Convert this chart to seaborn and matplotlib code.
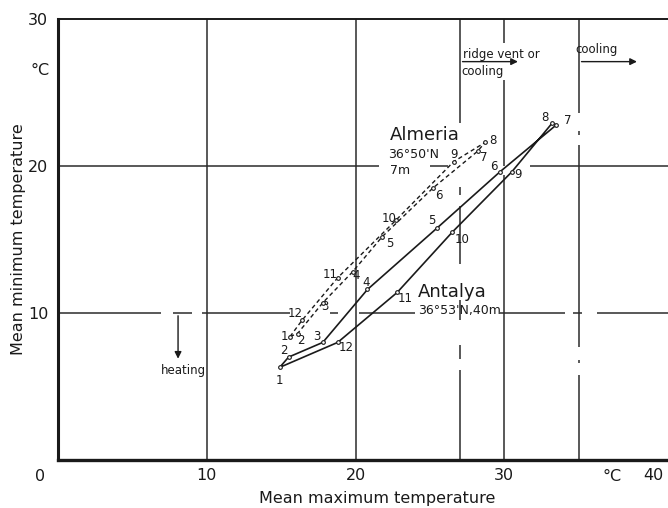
import matplotlib
matplotlib.use("Agg")
import matplotlib.pyplot as plt
import seaborn as sns
import pandas as pd

# monthly mean max / mean min temperature (deg C), months 1..12
months = list(range(1, 13))
antalya_tmax = [14.9, 15.5, 17.8, 20.8, 25.5, 29.7, 33.5, 33.2, 30.5, 26.5, 22.8, 18.8]
antalya_tmin = [6.3, 7.0, 8.0, 11.6, 15.8, 19.6, 22.8, 22.9, 19.6, 15.5, 11.4, 8.0]
almeria_tmax = [15.6, 16.1, 17.8, 19.8, 21.8, 25.2, 28.2, 28.7, 26.6, 22.7, 18.8, 16.4]
almeria_tmin = [8.4, 8.6, 10.7, 12.8, 15.2, 18.5, 21.0, 21.6, 20.3, 16.3, 12.4, 9.5]

x_ticks = [10, 20, 30, 40]
y_ticks = [10, 20, 30]

# label offsets for month numbers (pixels, style only)
antalya_off = [(0, -13), (-5, 7), (-6, 6), (-1, 7), (-6, 7), (-6, 5),
               (11, 4), (-7, 6), (6, -3), (10, -7), (8, -6), (8, -5)]
almeria_off = [(-6, 0), (3, -7), (2, -4), (4, -4), (7, -7), (6, -7),
               (6, -6), (8, 2), (0, 7), (-7, 2), (-8, 3), (-7, 7)]

sns.set_style("white")
plt.rcParams['font.family'] = ['DejaVu Sans']

fig, ax = plt.subplots(figsize=(6.68, 5.08), dpi=100)
fig.subplots_adjust(left=0.0868, right=1.0, bottom=0.0945, top=0.9626)

ink = "#1a1a1a"
grid = "#2b2b2b"

# reference lines (hand drawn grid with gaps)
def hseg(y, parts, lw=1.1):
    for a, b in parts:
        ax.plot([a, b], [y, y], color=grid, lw=lw, solid_capstyle="butt")

def vseg(x, parts, lw=1.1):
    for a, b in parts:
        ax.plot([x, x], [a, b], color=grid, lw=lw, solid_capstyle="butt")

hseg(20, [(0, 21.6), (25.0, 26.2), (31.7, 41)])
hseg(10, [(0, 6.9), (7.7, 9.0), (9.7, 15.6), (18.3, 18.8), (20.2, 24.0),
          (29.7, 34.1), (34.6, 35.2), (36.2, 41)])
vseg(10, [(0, 30)])
vseg(20, [(0, 30)])
vseg(30, [(0, 19.4), (20.0, 25.85), (28.4, 30)])
vseg(27, [(22.9, 30), (18.0, 18.6), (13.3, 17.3), (9.5, 10.9), (6.9, 7.8), (0, 6.1)])
vseg(35, [(23.6, 30), (22.1, 22.4), (7.7, 21.4), (6.6, 6.8), (0, 5.8)])

# climate loops
ant = pd.DataFrame({"tmax": antalya_tmax + antalya_tmax[:1],
                    "tmin": antalya_tmin + antalya_tmin[:1]})
alm = pd.DataFrame({"tmax": almeria_tmax + almeria_tmax[:1],
                    "tmin": almeria_tmin + almeria_tmin[:1]})

sns.lineplot(data=ant, x="tmax", y="tmin", sort=False, estimator=None,
             color=ink, lw=1.2, ax=ax)
sns.lineplot(data=alm, x="tmax", y="tmin", sort=False, estimator=None,
             color=ink, lw=1.0, dashes=False, ax=ax)
ax.lines[-1].set_dashes((3, 2.2))

sns.scatterplot(x=antalya_tmax, y=antalya_tmin, s=7, marker="o",
                facecolor="white", edgecolor=ink, linewidth=0.8, ax=ax, zorder=4)
sns.scatterplot(x=almeria_tmax, y=almeria_tmin, s=7, marker="o",
                facecolor="white", edgecolor=ink, linewidth=0.8, ax=ax, zorder=4)

for m, x, y, (dx, dy) in zip(months, antalya_tmax, antalya_tmin, antalya_off):
    ax.annotate(str(m), (x, y), xytext=(dx * 0.72, dy * 0.72), textcoords="offset points",
                ha="center", va="center", fontsize=8.5, color=ink)
for m, x, y, (dx, dy) in zip(months, almeria_tmax, almeria_tmin, almeria_off):
    ax.annotate(str(m), (x, y), xytext=(dx * 0.72, dy * 0.72), textcoords="offset points",
                ha="center", va="center", fontsize=8.5, color=ink)

# station names
ax.text(22.3, 22.1, "Almeria", fontsize=13, color=ink, ha="left", va="center")
ax.text(22.2, 20.75, "36°50'N", fontsize=9, color=ink, ha="left", va="center")
ax.text(22.3, 19.7, "7m", fontsize=9, color=ink, ha="left", va="center")
ax.text(24.2, 11.4, "Antalya", fontsize=13, color=ink, ha="left", va="center")
ax.text(24.2, 10.2, "36°53'N,40m", fontsize=9, color=ink, ha="left", va="center")

# zones
arrow = dict(arrowstyle="-|>", color=ink, lw=1.0, mutation_scale=10)
ax.text(27.2, 27.6, "ridge vent or", fontsize=8.5, color=ink, ha="left", va="center")
ax.text(27.1, 26.4, "cooling", fontsize=8.5, color=ink, ha="left", va="center")
ax.annotate("", xy=(31.1, 27.1), xytext=(27.0, 27.1), arrowprops=arrow)
ax.text(34.8, 27.9, "cooling", fontsize=8.5, color=ink, ha="left", va="center")
ax.annotate("", xy=(39.1, 27.1), xytext=(35.0, 27.1), arrowprops=arrow)
ax.annotate("", xy=(8.07, 6.7), xytext=(8.07, 10.0), arrowprops=arrow)
ax.text(8.4, 6.1, "heating", fontsize=8.5, color=ink, ha="center", va="center")

# axes
ax.set_xlim(0, 41.0)
ax.set_ylim(0, 30)
ax.set_xticks(x_ticks)
ax.set_yticks(y_ticks)
ax.tick_params(length=0, labelsize=11.5, colors=ink)
ax.tick_params(axis="x", pad=6)
ax.tick_params(axis="y", pad=7)
ax.text(-1.2, -1.1, "0", fontsize=11.5, color=ink, ha="center", va="center", clip_on=False)
ax.text(37.25, -1.1, "°C", fontsize=11.5, color=ink, ha="center", va="center", clip_on=False)
ax.text(-1.2, 26.5, "°C", fontsize=11.5, color=ink, ha="center", va="center", clip_on=False)

ax.set_xlabel("Mean maximum temperature", fontsize=11.5, color=ink)
ax.set_ylabel("Mean minimum temperature", fontsize=11.5, color=ink)
ax.xaxis.set_label_coords(0.523, -0.07)
ax.yaxis.set_label_coords(-0.052, 0.5)

for side in ["right"]:
    ax.spines[side].set_visible(False)
ax.spines["left"].set_linewidth(2.2)
ax.spines["bottom"].set_linewidth(2.4)
ax.spines["top"].set_linewidth(1.4)
for s in ax.spines.values():
    s.set_color(ink)

plt.savefig("out.png", dpi=100)
